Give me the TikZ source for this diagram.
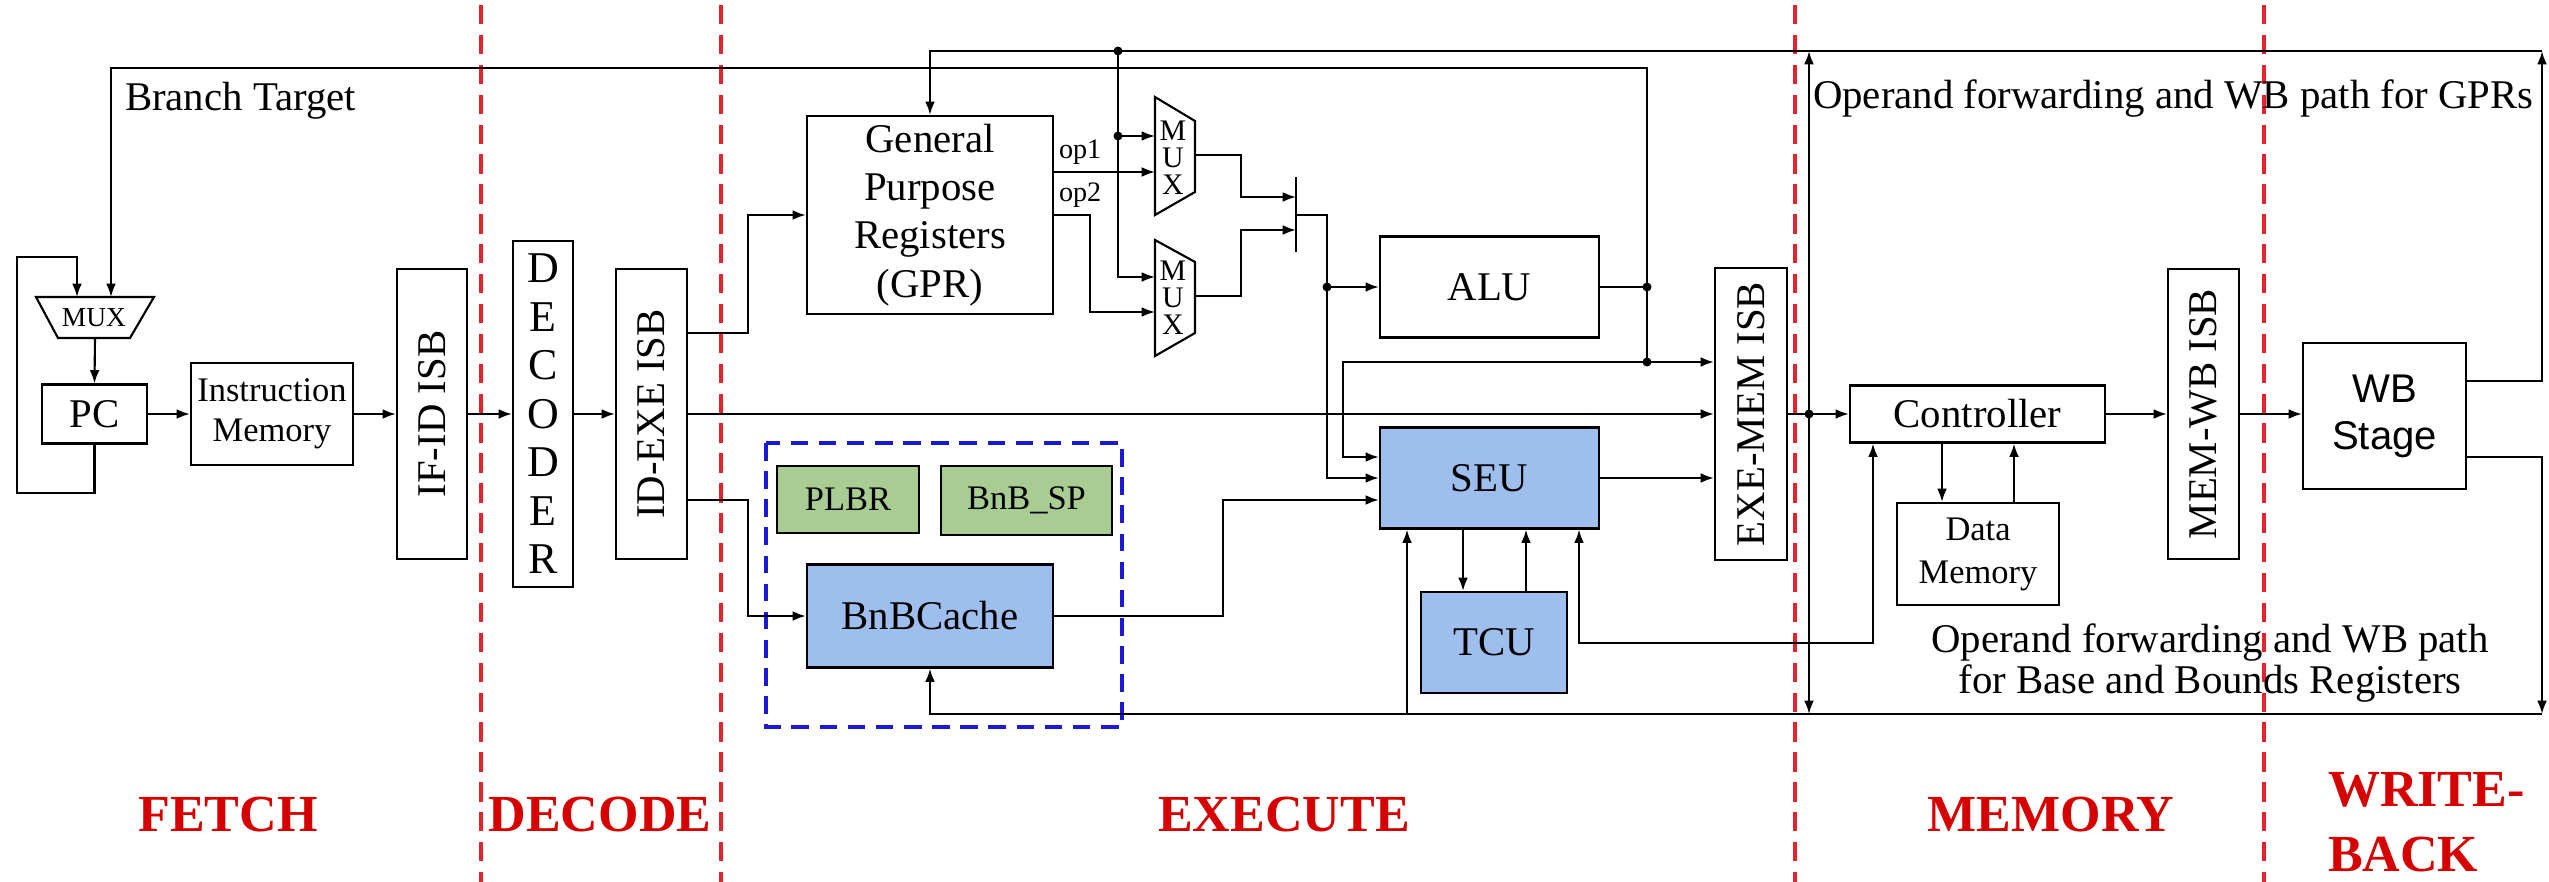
\documentclass[tikz,border=0pt]{standalone}
\usepackage{fontspec}
\setmainfont{Liberation Serif}
\newfontfamily\arialfam{Liberation Sans}
\usetikzlibrary{arrows.meta}
\newcommand\myfs[2]{\fontsize{#1}{#2}\selectfont}
\definecolor{bfill}{RGB}{158,190,238}
\definecolor{gfill}{RGB}{168,204,146}
\definecolor{stagered}{RGB}{215,0,0}
\definecolor{dashred}{RGB}{228,35,45}
\definecolor{dashblue}{RGB}{25,25,215}
\begin{document}
\begin{tikzpicture}[x=0.01cm, y=-0.01cm, line width=0.6pt,
  box/.style={draw, inner sep=0pt, align=center, font=\myfs{11.6}{13.7}},
  blu/.style={box, fill=bfill},
  grn/.style={box, fill=gfill, font=\myfs{9.8}{11}},
  arr/.style={-{Latex[length=3.8pt,width=2.8pt]}},
  biarr/.style={{Latex[length=3.8pt,width=2.8pt]}-{Latex[length=3.8pt,width=2.8pt]}},
  stage/.style={font=\myfs{14.8}{18.5}\bfseries, text=stagered, inner sep=0pt, align=left},
  redline/.style={draw=dashred, line width=1.2pt, dash pattern=on 5.5pt off 3pt},
  blueframe/.style={draw=dashblue, line width=1.2pt, dash pattern=on 5pt off 3pt},
  lbl/.style={inner sep=0pt, font=\myfs{11.6}{13.7}},
  jdot/.style={fill=black}
]
\useasboundingbox (0,0) rectangle (2549,882);

% stage separators
\draw[redline] (481,5) -- (481,882);
\draw[redline] (721,5) -- (721,882);
\draw[redline] (1795,5) -- (1795,882);
\draw[redline] (2264,5) -- (2264,882);

% ---------- nodes ----------
\node[box, minimum width=1.05cm, minimum height=0.59cm] (pc) at (94.5,414) {PC};
\node[box, minimum width=1.62cm, minimum height=1.02cm, font=\myfs{9.8}{11.4}] (im) at (272,414) {Instruction\\Memory};
\node[box, minimum width=0.70cm, minimum height=2.90cm] (ifid) at (432,414) {\rotatebox{90}{IF-ID ISB}};
\node[box, minimum width=0.60cm, minimum height=3.46cm, font=\myfs{12.5}{13.8}] (dec) at (543,414) {D\\E\\C\\O\\D\\E\\R};
\node[box, minimum width=0.71cm, minimum height=2.90cm] (idexe) at (651.5,414) {\rotatebox{90}{ID-EXE ISB}};
\node[box, minimum width=2.46cm, minimum height=1.98cm] (gpr) at (930,215) {General\\Purpose\\Registers\\(GPR)};
\node[box, minimum width=2.19cm, minimum height=1.01cm] (alu) at (1489.5,287) {ALU};
\node[blu, minimum width=2.19cm, minimum height=1.01cm] (seu) at (1489.5,478) {SEU};
\node[blu, minimum width=1.46cm, minimum height=1.01cm] (tcu) at (1494,642.5) {TCU};
\node[blu, minimum width=2.46cm, minimum height=1.03cm] (bnbc) at (930,616) {BnBCache};
\node[grn, minimum width=1.42cm, minimum height=0.67cm] (plbr) at (848,499.5) {PLBR};
\node[grn, minimum width=1.71cm, minimum height=0.69cm] (bnbsp) at (1026.5,500.5) {BnB\_SP};
\node[box, minimum width=0.72cm, minimum height=2.91cm] (exemem) at (1751,414) {\rotatebox{90}{EXE-MEM ISB}};
\node[box, minimum width=2.55cm, minimum height=0.57cm] (ctrl) at (1977.5,414) {Controller};
\node[box, minimum width=1.62cm, minimum height=1.02cm, font=\myfs{9.8}{12.2}] (dmem) at (1978,554) {Data\\Memory};
\node[box, minimum width=0.71cm, minimum height=2.90cm] (memwb) at (2203.5,414) {\rotatebox{90}{MEM-WB ISB}};
\node[box, minimum width=1.63cm, minimum height=1.46cm, font={\arialfam\myfs{11.4}{13.4}}] (wb) at (2384.5,416) {WB\\Stage};

\draw[blueframe] (766,443) rectangle (1122,727);

% multiplexers
\draw (36,297) -- (154,297) -- (130,338) -- (58,338) -- cycle;
\node[lbl, font=\myfs{7.8}{9}] (fmux) at (94,318) {MUX};
\coordinate (fmuxout) at (95,338);
\draw (1155,97) -- (1195,121) -- (1195,192) -- (1155,215) -- cycle;
\node[lbl, align=center, font=\myfs{8.5}{7.7}] (mux1) at (1173,158) {M\\U\\X};
\draw (1155,240) -- (1195,262) -- (1195,333) -- (1155,356) -- cycle;
\node[lbl, align=center, font=\myfs{8.5}{7.7}] (mux2) at (1173,298) {M\\U\\X};
\draw (1296,177) -- (1296,252);

% text labels
\node[lbl, anchor=west] (bt) at (124,101) {Branch Target};
\node[lbl, anchor=west, font=\myfs{8}{9}] (op1) at (1058,152) {op1};
\node[lbl, anchor=west, font=\myfs{8}{9}] (op2) at (1058,195) {op2};
\node[lbl, anchor=west] (fwd1) at (1812,99) {Operand forwarding and WB path for GPRs};
\node[lbl, align=center, font=\myfs{11.6}{10.3}] (fwd2) at (2210,663) {Operand forwarding and WB path\\for Base and Bounds Registers};

\node[stage] (sfetch) at (228,815) {FETCH};
\node[stage] (sdec) at (600,815) {DECODE};
\node[stage] (sexe) at (1284,815) {EXECUTE};
\node[stage] (smem) at (2051,815) {MEMORY};
\node[stage, anchor=west] (swb) at (2327,822) {WRITE-\\BACK};

% ---------- connectors ----------
% fetch
\draw[arr] (pc.south) -- (94.5,493) -- (17,493) -- (17,257) -- (77,257) -- (77,297);
\draw[arr] (fmuxout) -- (pc.north);
\draw[arr] (pc.east) -- (im.west);
\draw[arr] (im.east) -- (ifid.west);
\draw[arr] (ifid.east) -- (dec.west);
\draw[arr] (dec.east) -- (idexe.west);

% decode -> execute
\draw[arr] (idexe.east |- 0,333) -- (748,333) -- (748,215) -- (gpr.west);
\draw[arr] (idexe.east |- 0,500) -- (748,500) -- (748,616) -- (bnbc.west);
\draw[arr] (idexe.east) -- (exemem.west);

% GPR and MUXes
\draw[arr] (gpr.east |- 0,172) -- (1155,172);
\draw[arr] (gpr.east) -- (1090,215) -- (1090,312) -- (1155,312);
\draw[arr] (1118,51) -- (1118,277) -- (1155,277);
\draw[arr] (1118,136) -- (1155,136);
\fill[jdot] (1118,51) circle[radius=0.045cm];
\fill[jdot] (1118,136) circle[radius=0.045cm];
\draw[arr] (1195,155) -- (1241,155) -- (1241,197) -- (1296,197);
\draw[arr] (1195,296) -- (1241,296) -- (1241,230) -- (1296,230);
\draw[arr] (1296,215) -- (1327,215) -- (1327,478) -- (seu.west);
\draw[arr] (1327,287) -- (alu.west);
\fill[jdot] (1327,287) circle[radius=0.045cm];

% ALU result
\draw (alu.east) -- (1647,287);
\fill[jdot] (1647,287) circle[radius=0.045cm];
\draw[arr] (1647,362) -- (1647,68) -- (111,68) -- (111,297);
\fill[jdot] (1647,362) circle[radius=0.045cm];
\draw[arr] (1647,362) -- (exemem.west |- 0,362);
\draw[arr] (1647,362) -- (1343,362) -- (1343,457) -- (seu.west |- 0,457);

% BnB cache and SEU
\draw[arr] (bnbc.east) -- (1223,616) -- (1223,500) -- (seu.west |- 0,500);
\draw[arr] (seu.east) -- (exemem.west |- seu.east);
\draw[arr] (seu.south -| 1463,0) -- (tcu.north -| 1463,0);
\draw[arr] (tcu.north -| 1526,0) -- (seu.south -| 1526,0);
\draw[arr] (1407,714) -- (seu.south -| 1407,0);
\draw[biarr] (seu.south -| 1579,0) -- (1579,643) -- (1873,643) -- (ctrl.south -| 1873,0);

% memory stage
\draw[arr] (exemem.east) -- (ctrl.west);
\fill[jdot] (1809,414) circle[radius=0.045cm];
\draw[biarr] (1809,51) -- (1809,714);
\draw[arr] (ctrl.south -| 1942,0) -- (dmem.north -| 1942,0);
\draw[arr] (dmem.north -| 2014,0) -- (ctrl.south -| 2014,0);
\draw[arr] (ctrl.east) -- (memwb.west);
\draw[arr] (memwb.east) -- (memwb.east -| wb.west);

% write-back paths
\draw[arr] (wb.east |- 0,381) -- (2542,381) -- (2542,51);
\draw[arr] (2542,51) -- (930,51) -- (gpr.north);
\draw[arr] (wb.east |- 0,457) -- (2542,457) -- (2542,714);
\draw[arr] (2542,714) -- (930,714) -- (bnbc.south);
\end{tikzpicture}
\end{document}
